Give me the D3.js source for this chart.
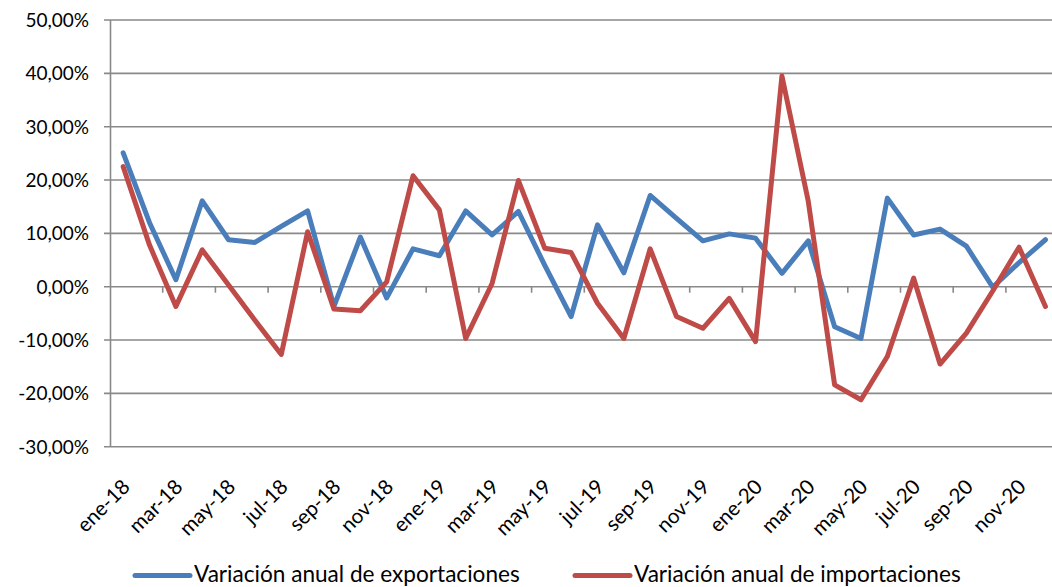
<!DOCTYPE html>
<html>
<head>
<meta charset="utf-8">
<script src="https://cdn.jsdelivr.net/npm/d3@7"></script>
<style>
  body { margin: 0; background: #fff; }
  svg text { font-family: Lato, "Open Sans", sans-serif; fill: #000; }
</style>
</head>
<body>
<div id="chart"></div>
<script>
// Months ene-18 .. dic-20
let months = ["ene-18","feb-18","mar-18","abr-18","may-18","jun-18","jul-18","ago-18","sep-18","oct-18","nov-18","dic-18",
              "ene-19","feb-19","mar-19","abr-19","may-19","jun-19","jul-19","ago-19","sep-19","oct-19","nov-19","dic-19",
              "ene-20","feb-20","mar-20","abr-20","may-20","jun-20","jul-20","ago-20","sep-20","oct-20","nov-20","dic-20"];

// Variación anual de exportaciones (%)
let exportaciones = [25.1, 12.0, 1.3, 16.1, 8.8, 8.3, 11.3, 14.2, -3.7, 9.3, -2.1, 7.1,
                     5.8, 14.2, 9.7, 14.1, 4.0, -5.6, 11.6, 2.6, 17.1, 12.8, 8.6, 9.9,
                     9.1, 2.5, 8.6, -7.5, -9.7, 16.6, 9.7, 10.8, 7.6, -0.1, 4.5, 8.8];

// Variación anual de importaciones (%)
let importaciones = [22.5, 7.8, -3.7, 6.9, 0.3, -6.3, -12.7, 10.3, -4.2, -4.5, 0.9, 20.8,
                     14.4, -9.7, 0.6, 19.9, 7.2, 6.4, -3.1, -9.7, 7.1, -5.6, -7.8, -2.2,
                     -10.3, 39.5, 16.0, -18.4, -21.2, -13.1, 1.6, -14.5, -8.7, -0.8, 7.4, -3.7];

let yTicks = [-30, -20, -10, 0, 10, 20, 30, 40, 50];

let seriesNames = ["Variación anual de exportaciones", "Variación anual de importaciones"];
let seriesColors = ["#4a7ebb", "#be4b48"];

let w = 1052;
let h = 587;

let svg = d3.select("#chart")
  .append("svg")
  .attr("width", w)
  .attr("height", h);

let x = d3.scaleBand()
  .domain(months)
  .range([110, 1058.6])
  .padding(0);

let y = d3.scaleLinear()
  .domain([-30, 50])
  .range([446.7, 20]);

// gridlines
svg.append("g")
  .selectAll("line")
  .data(yTicks)
  .join("line")
  .attr("x1", 104)
  .attr("x2", 1060)
  .attr("y1", d => y(d))
  .attr("y2", d => y(d))
  .attr("stroke", "#898989")
  .attr("stroke-width", 1.6);

// y axis line
svg.append("line")
  .attr("x1", 110.5).attr("x2", 110.5)
  .attr("y1", y(50)).attr("y2", y(-30))
  .attr("stroke", "#898989")
  .attr("stroke-width", 1.6);

// category tick marks every two months
svg.append("g")
  .selectAll("line")
  .data(months.filter((d, i) => i % 2 == 0 && i > 0))
  .join("line")
  .attr("x1", d => x(d))
  .attr("x2", d => x(d))
  .attr("y1", y(0))
  .attr("y2", y(0) + 6)
  .attr("stroke", "#898989")
  .attr("stroke-width", 1.6);

// y labels
svg.append("g")
  .selectAll("text")
  .data(yTicks)
  .join("text")
  .attr("x", 89)
  .attr("y", d => y(d) + 7)
  .attr("text-anchor", "end")
  .style("font-size", "19px")
  .text(d => d.toFixed(2).replace(".", ",") + "%");

// x labels
svg.append("g")
  .selectAll("text")
  .data(months.filter((d, i) => i % 2 == 0))
  .join("text")
  .attr("transform", d => "translate(" + (x(d) + x.bandwidth() / 2 + 8) + "," + 488 + ") rotate(-45)")
  .attr("text-anchor", "end")
  .style("font-size", "20.5px")
  .text(d => d);

// lines
let line = d3.line()
  .x((d, i) => x(months[i]) + x.bandwidth() / 2)
  .y(d => y(d));

[exportaciones, importaciones].forEach((s, k) => {
  svg.append("path")
    .datum(s)
    .attr("d", line)
    .attr("fill", "none")
    .attr("stroke", seriesColors[k])
    .attr("stroke-width", 5)
    .attr("stroke-linejoin", "round")
    .attr("stroke-linecap", "round");
});

// legend
let legendX = [135, 575];
let legend = svg.append("g");
seriesNames.forEach((n, k) => {
  legend.append("line")
    .attr("x1", legendX[k])
    .attr("x2", legendX[k] + 55)
    .attr("y1", 575.5)
    .attr("y2", 575.5)
    .attr("stroke", seriesColors[k])
    .attr("stroke-width", 5)
    .attr("stroke-linecap", "round");
  legend.append("text")
    .attr("x", legendX[k] + 59)
    .attr("y", 582)
    .style("font-size", "22.6px")
    .text(n);
});
</script>
</body>
</html>
